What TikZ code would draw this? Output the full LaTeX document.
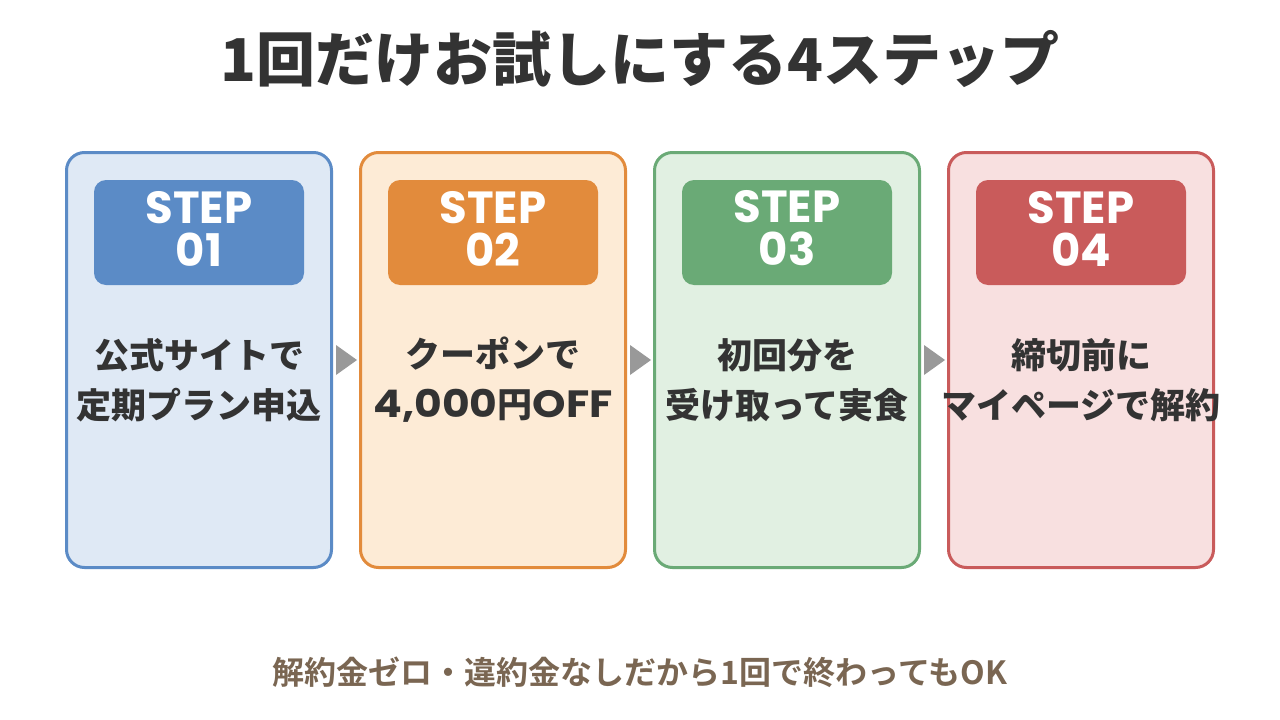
\documentclass[tikz,border=0pt]{standalone}
\usepackage{fontspec}
\usetikzlibrary{calc}
\newfontfamily\jpb{Noto Sans CJK JP Bold}
\newfontfamily\jpk{Noto Sans CJK JP Black}
\newfontfamily\pop{Poppins Bold}
\newfontfamily\popw{Poppins Bold}[FakeStretch=1.12]
\definecolor{txt}{HTML}{333333}
\definecolor{foot}{HTML}{7A6652}
\definecolor{bA}{HTML}{5B8BC6}\definecolor{fA}{HTML}{DFE9F5}
\definecolor{bB}{HTML}{E28B3C}\definecolor{fB}{HTML}{FDEBD6}
\definecolor{bC}{HTML}{6AAA76}\definecolor{fC}{HTML}{E1F0E2}
\definecolor{bD}{HTML}{C95B5B}\definecolor{fD}{HTML}{F8E0E0}
\definecolor{arr}{HTML}{999999}
\tikzset{
  card/.style={draw=#1, line width=3pt, rounded corners=18pt, minimum width=265pt, minimum height=415pt, inner sep=0pt},
  head/.style={fill=#1, rounded corners=12pt, minimum width=210pt, minimum height=105pt, inner sep=0pt},
  steptext/.style={text=white, font=\pop\fontsize{45}{43}\selectfont, align=center, inner sep=0pt},
  body/.style={text=txt, font=\jpk\fontsize{35}{50}\selectfont, align=center},
  tri/.style={fill=arr, draw=none},
}
\begin{document}
\begin{tikzpicture}[x=1pt,y=-1pt]
\useasboundingbox[fill=white] (0,0) rectangle (1280,720);
\node[text=txt, font=\jpk\fontsize{59}{64}\selectfont] (title) at (640,59) {1回だけお試しにする4ステップ};
\foreach \i/\c/\n/\t in {0/A/01/{公式サイトで\\定期プラン申込},1/B/02/{クーポンで\\{\popw\fontsize{38}{50}\selectfont 4,000}円{\popw\fontsize{38}{50}\selectfont OFF}},2/C/03/{初回分を\\受け取って実食},3/D/04/{締切前に\\マイページで解約}}{
  \pgfmathsetmacro{\cx}{199+294*\i}
  \node[card=b\c, fill=f\c] (card\i) at (\cx,360) {};
  \node[head=b\c] (head\i) at (\cx,232.5) {};
  \node[steptext] (lab\i) at (\cx,228.5) {STEP\\\n};
  \node[body] (body\i) at (\cx,380) {\t};
}
\foreach \i/\j in {0/1,1/2,2/3}{
  \coordinate (m\i) at ($(card\i.east)!0.5!(card\j.west)$);
  \fill[tri] ([xshift=-10pt,yshift=-15pt]m\i) -- ([xshift=11pt]m\i) -- ([xshift=-10pt,yshift=15pt]m\i) -- cycle;
}
\node[text=foot, font=\jpb\fontsize{32}{36}\selectfont] (footer) at (640,672) {解約金ゼロ・違約金なしだから1回で終わってもOK};
\end{tikzpicture}
\end{document}
